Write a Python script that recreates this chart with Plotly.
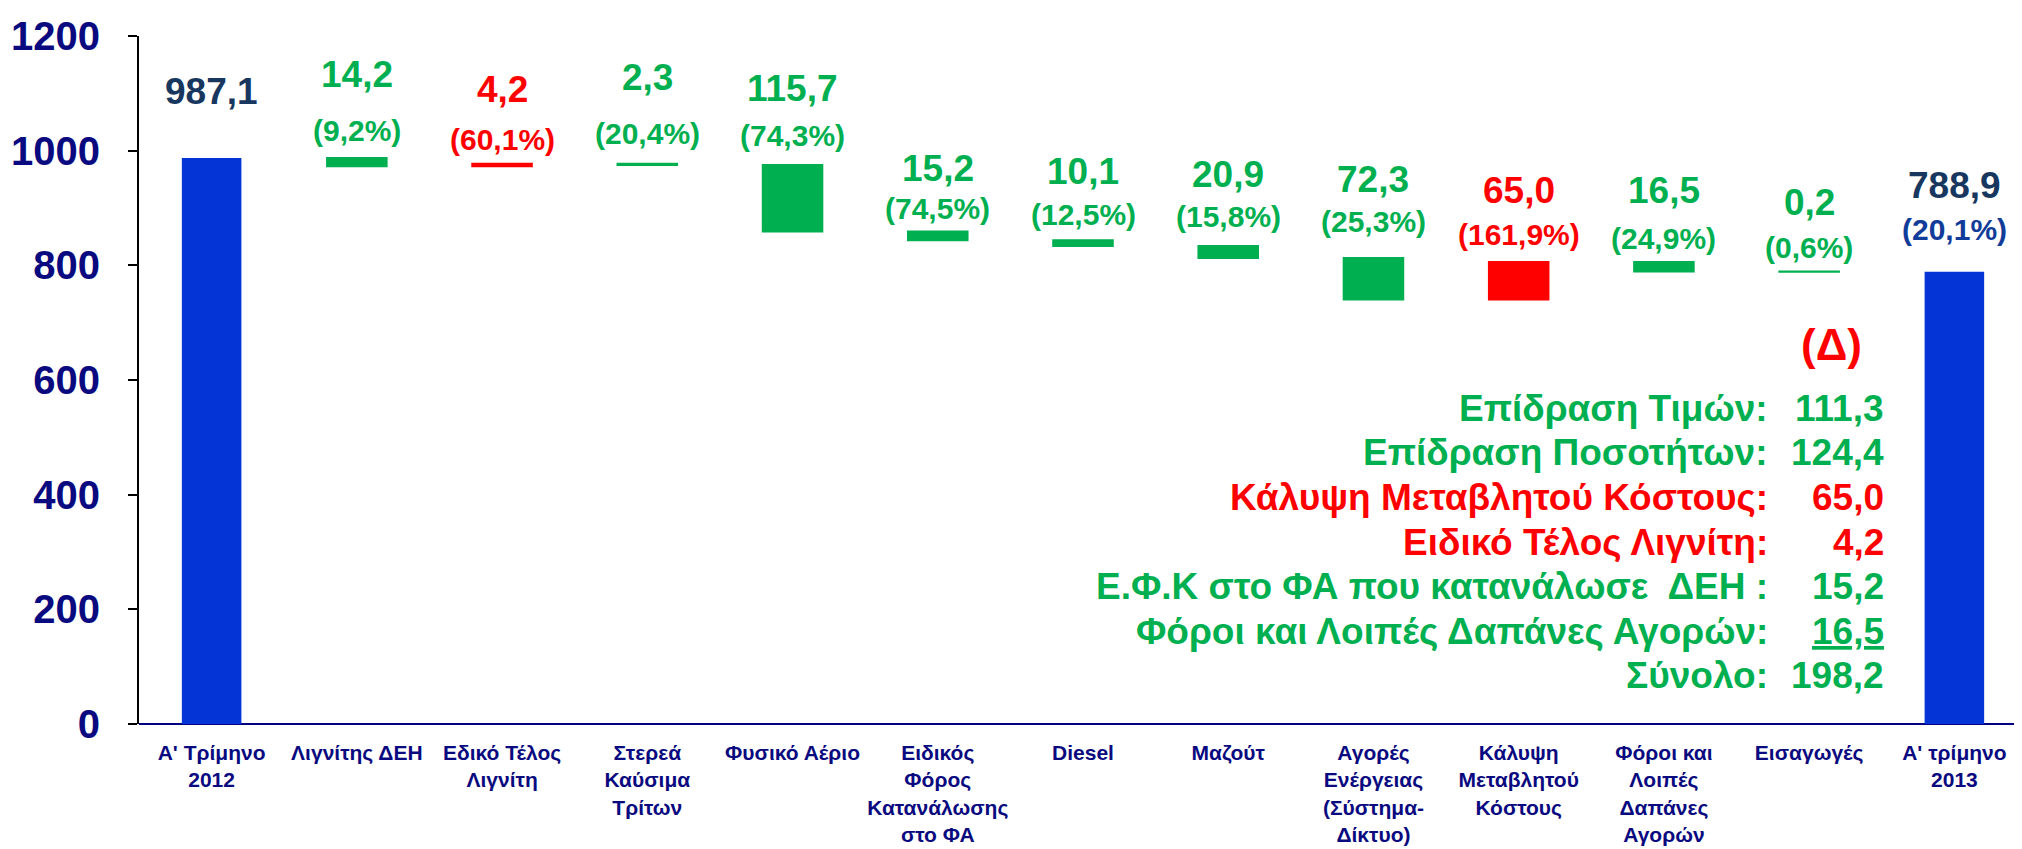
import plotly.graph_objects as go

# ---------------- data ----------------
categories = [
    "Α' Τρίμηνο<br>2012", "Λιγνίτης ΔΕΗ", "Εδικό Τέλος<br>Λιγνίτη",
    "Στερεά<br>Καύσιμα<br>Τρίτων", "Φυσικό Αέριο",
    "Ειδικός<br>Φόρος<br>Κατανάλωσης<br>στο ΦΑ", "Diesel", "Μαζούτ",
    "Αγορές<br>Ενέργειας<br>(Σύστημα-<br>Δίκτυο)", "Κάλυψη<br>Μεταβλητού<br>Κόστους",
    "Φόροι και<br>Λοιπές<br>Δαπάνες<br>Αγορών", "Εισαγωγές", "Α' τρίμηνο<br>2013",
]
measures = ["absolute", "relative", "relative", "relative", "relative", "relative",
            "relative", "relative", "relative", "relative", "relative", "relative", "total"]
deltas = [987.1, -14.2, 4.2, -2.3, -115.7, -15.2, -10.1, -20.9, -72.3, 65.0, -16.5, -0.2, 0]
value_labels = ["987,1", "14,2", "4,2", "2,3", "115,7", "15,2", "10,1", "20,9",
                "72,3", "65,0", "16,5", "0,2", "788,9"]
pct_labels = [None, "(9,2%)", "(60,1%)", "(20,4%)", "(74,3%)", "(74,5%)", "(12,5%)",
              "(15,8%)", "(25,3%)", "(161,9%)", "(24,9%)", "(0,6%)", "(20,1%)"]

summary_names = ["Επίδραση Τιμών:", "Επίδραση Ποσοτήτων:", "Κάλυψη Μεταβλητού Κόστους:",
                 "Ειδικό Τέλος Λιγνίτη:", "Ε.Φ.Κ στο ΦΑ που κατανάλωσε  ΔΕΗ :",
                 "Φόροι και Λοιπές Δαπάνες Αγορών:", "Σύνολο:"]
summary_values = ["111,3", "124,4", "65,0", "4,2", "15,2", "16,5", "198,2"]
summary_kind = ["dec", "dec", "inc", "inc", "dec", "dec", "dec"]

y_ticks = [0, 200, 400, 600, 800, 1000, 1200]

# ---------------- styles ----------------
FONT = "Liberation Sans, Arial, sans-serif"
GREEN = "#00B050"
RED = "#FF0000"
BLUE = "#0433D6"
NAVY = "#0A0A80"
TOTAL_TXT = "#17375E"
TOTAL_PCT = "#123C99"

val_shift = [67, 84, 74, 86, 77, 63, 69, 71, 78, 72, 72, 69, 86]
pct_shift = [0, 28, 24, 30, 30, 23, 26, 29, 36, 28, 24, 24, 42]

fig = go.Figure(go.Waterfall(
    x=categories, y=deltas, measure=measures,
    increasing=dict(marker=dict(color=RED, line=dict(color=RED, width=2))),
    decreasing=dict(marker=dict(color=GREEN, line=dict(color=GREEN, width=2))),
    totals=dict(marker=dict(color=BLUE, line=dict(width=0))),
    connector=dict(visible=False),
    width=[0.41] * len(categories),
    hoverinfo="skip",
))

# bar tops computed from the running total
tops, run = [], 0.0
for m, d in zip(measures, deltas):
    if m == "absolute":
        run = d
        tops.append(run)
    elif m == "total":
        tops.append(run)
    else:
        start = run
        run = run + d
        tops.append(max(start, run))

annotations = []
for i, cat in enumerate(categories):
    if measures[i] == "relative":
        col = RED if deltas[i] > 0 else GREEN
        pcol = col
    else:
        col, pcol = TOTAL_TXT, TOTAL_PCT
    annotations.append(dict(
        x=cat, y=tops[i], xref="x", yref="y", yshift=val_shift[i], yanchor="middle",
        text=value_labels[i], showarrow=False,
        font=dict(family=FONT, size=37, color=col, weight="bold")))
    if pct_labels[i]:
        annotations.append(dict(
            x=cat, y=tops[i], xref="x", yref="y", yshift=pct_shift[i], yanchor="middle",
            text=pct_labels[i], showarrow=False,
            font=dict(family=FONT, size=30, color=pcol, weight="bold")))

# summary block (pixel-based placement in paper coordinates)
PLOT_L, PLOT_W, PLOT_B, PLOT_H = 128, 1891, 716, 688
def px(x):
    return (x - PLOT_L) / PLOT_W
def py(y):
    return (PLOT_B - y) / PLOT_H

annotations.append(dict(x=px(1823), y=py(336), xref="paper", yref="paper",
                        text="(Δ)", showarrow=False, xanchor="center", yanchor="middle",
                        font=dict(family=FONT, size=44, color=RED, weight="bold")))
row_y = [400, 444, 489, 534, 578, 623, 667]
for name, val, kind, yy in zip(summary_names, summary_values, summary_kind, row_y):
    col = RED if kind == "inc" else GREEN
    annotations.append(dict(x=px(1762), y=py(yy), xref="paper", yref="paper",
                            text=name, showarrow=False, xanchor="right", yanchor="middle",
                            font=dict(family=FONT, size=37, color=col, weight="bold")))
    txt = "<u>" + val + "</u>" if name.startswith("Φόροι") else val
    annotations.append(dict(x=px(1878), y=py(yy), xref="paper", yref="paper",
                            text=txt, showarrow=False, xanchor="right", yanchor="middle",
                            font=dict(family=FONT, size=37, color=col, weight="bold")))

fig.update_layout(
    width=2022, height=849,
    margin=dict(l=128, r=3, t=28, b=133),
    paper_bgcolor="white", plot_bgcolor="white",
    showlegend=False,
    annotations=annotations,
    xaxis=dict(
        type="category", showgrid=False, zeroline=False,
        showline=False, ticks="",
        tickfont=dict(family=FONT, size=21, color=NAVY, weight="bold"),
        ticklabelstandoff=14,
    ),
    yaxis=dict(
        range=[0, 1200], tickvals=y_ticks, showgrid=False,
        zeroline=True, zerolinecolor="#000080", zerolinewidth=2,
        showline=True, linecolor="black", linewidth=2,
        ticks="outside", ticklen=9, tickwidth=2, tickcolor="black",
        tickfont=dict(family=FONT, size=40, color=NAVY, weight="bold"),
        ticklabelstandoff=20,
    ),
)

fig.write_html("out.html")
